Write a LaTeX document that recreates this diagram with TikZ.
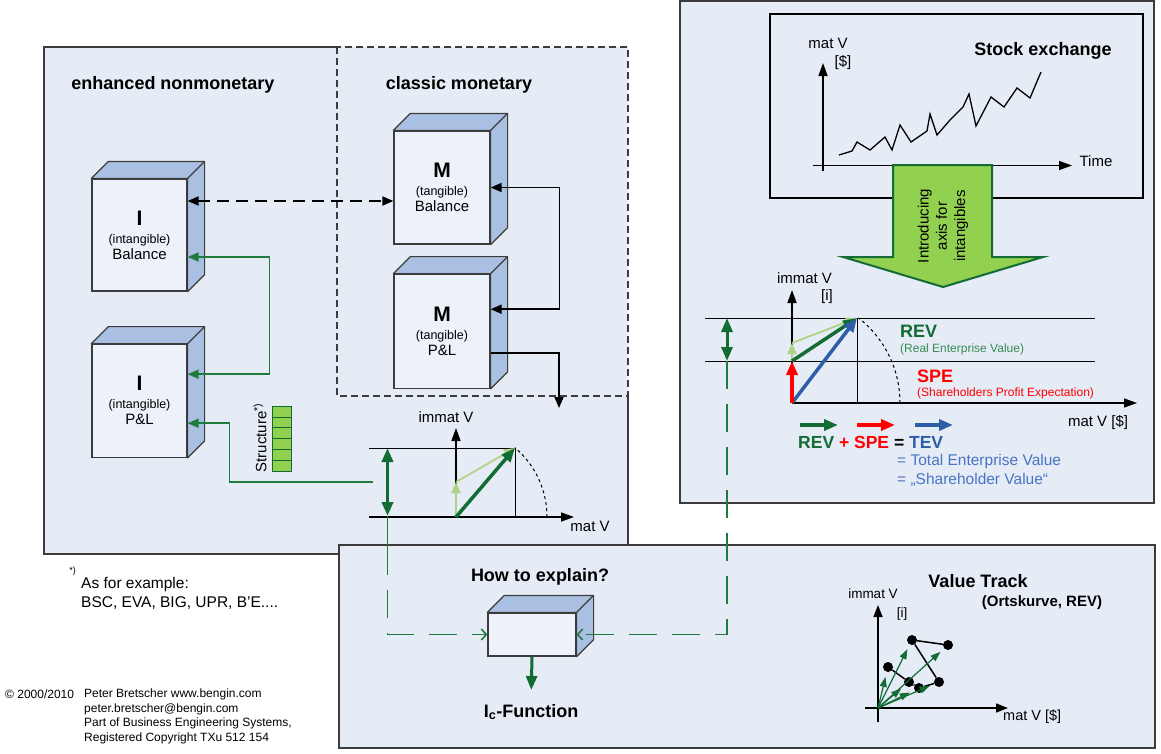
\documentclass[tikz,border=0pt]{standalone}
\usepackage{fontspec}
\setmainfont{Liberation Sans}
\usetikzlibrary{positioning, arrows.meta, calc}
\definecolor{panelfill}{RGB}{230,236,246}
\definecolor{cubefront}{RGB}{237,241,249}
\definecolor{cubeshade}{RGB}{170,192,226}
\definecolor{edgegray}{RGB}{60,60,60}
\definecolor{dkgreen}{RGB}{18,108,52}
\definecolor{linkgreen}{RGB}{32,124,62}
\definecolor{revgreen}{RGB}{52,140,82}
\definecolor{ltgreen}{RGB}{172,212,132}
\definecolor{fillgreen}{RGB}{146,208,80}
\definecolor{tevblue}{RGB}{46,94,168}
\definecolor{txtblue}{RGB}{72,116,196}
\tikzset{
	panel/.style={draw=edgegray, line width=1.8pt, fill=panelfill},
	cube/.style={draw=edgegray, line width=1.2pt, fill=cubefront, inner sep=0pt, minimum width=95pt, minimum height=112pt, align=center, font=\fontsize{15}{17}\selectfont},
	cubeside/.style={draw=edgegray, line width=1.2pt, fill=cubeshade, line join=round},
	heading/.style={inner sep=0pt, font=\fontsize{18}{20}\selectfont\bfseries},
	axislabel/.style={inner sep=0pt, font=\fontsize{15}{17}\selectfont},
	note/.style={inner sep=0pt, font=\fontsize{12}{14.5}\selectfont},
	axis/.style={line width=1.4pt, -{Triangle[length=13pt, width=9pt]}},
	guide/.style={line width=1pt},
	link/.style={line width=1.7pt, -{Triangle[length=11pt, width=9pt]}},
	linkboth/.style={line width=1.7pt, {Triangle[length=11pt, width=9pt]}-{Triangle[length=11pt, width=9pt]}},
	glink/.style={draw=linkgreen, line width=1.6pt},
	gdash/.style={draw=linkgreen, line width=1.6pt, dash pattern=on 28pt off 15pt, -{Straight Barb[length=5pt, width=11pt]}},
	vec/.style={line width=3.5pt, -{Triangle[length=14pt, width=11pt]}},
	vecboth/.style={line width=3.5pt, {Triangle[length=14pt, width=11pt]}-{Triangle[length=14pt, width=11pt]}},
	thinvec/.style={line width=1.8pt, -{Triangle[length=11pt, width=9pt]}},
	structcell/.style={draw=dkgreen, fill=fillgreen, line width=0.8pt, minimum width=19pt, minimum height=10.9pt, inner sep=0pt},
	dot/.style={circle, fill=black, minimum size=10pt, inner sep=0pt},
}
% top and side face of a cube node
\newcommand{\cubedepth}[2]{%
	\draw[cubeside] (#1.north west) -- ++(#2,-#2) -- ($(#1.north east)+(#2,-#2)$) -- ($(#1.south east)+(#2,-#2)$) -- (#1.south east) -- (#1.north east) -- cycle
		(#1.north east) -- ++(#2,-#2);
}

\begin{document}
\begin{tikzpicture}[x=1pt, y=-1pt]
	\useasboundingbox (0,0) rectangle (1161,753);
	
	% panels
	\path[fill=panelfill] (44,47) rectangle (628,554);
	\draw[draw=edgegray, line width=1.8pt] (337,47) -- (44,47) -- (44,554) -- (628,554) -- (628,396);
	\draw[draw=edgegray, line width=1.2pt, dash pattern=on 7pt off 4pt] (337,47) rectangle (628,396);
	\draw[panel] (680,1) rectangle (1154,503);
	\draw[panel] (339,545) rectangle (1155,748);
	
	%%% left panel
	\node[heading] (nonmon) at (173,85) {enhanced nonmonetary};
	\node[heading] (classic) at (459,85) {classic monetary};
	
	\node[cube] (ibal) at (139.5,235) {{\fontsize{21}{21}\selectfont\bfseries I}\\[1pt]{\fontsize{12.5}{14}\selectfont (intangible)}\\[-1pt]Balance};
	\node[cube, minimum height=113pt, below=52pt of ibal] (ipl) {{\fontsize{21}{21}\selectfont\bfseries I}\\[1pt]{\fontsize{12.5}{14}\selectfont (intangible)}\\[-1pt]P\&L};
	\node[cube, minimum width=96pt, minimum height=113pt] (mbal) at (442,187.5) {{\fontsize{21}{21}\selectfont\bfseries M}\\[1pt]{\fontsize{12.5}{14}\selectfont (tangible)}\\[-1pt]Balance};
	\node[cube, minimum width=96pt, minimum height=114pt, below=29pt of mbal] (mpl) {{\fontsize{21}{21}\selectfont\bfseries M}\\[1pt]{\fontsize{12.5}{14}\selectfont (tangible)}\\[-1pt]P\&L};
	\cubedepth{ibal}{17}
	\cubedepth{ipl}{17}
	\cubedepth{mbal}{17}
	\cubedepth{mpl}{17}
	
	\foreach \i in {0,...,5}
		\node[structcell] (cell\i) at (282.2,411.5+10.9*\i) {};
	\node[axislabel, rotate=90] (structlbl) at (260,438) {Structure\textsuperscript{*)}};
	
	% small chart
	\coordinate (oL) at (456,517);
	\coordinate (tipL) at (515,448);
	\coordinate (chartin) at (559,408);
	\coordinate (linkL) at (373,482);
	\coordinate (dblTopL) at (387.5,448);
	\coordinate (dblBotL) at (387.5,516);
	\coordinate (gapL) at (387.5,547);
	\draw[guide] (369,448) -- (tipL) -- (tipL |- oL);
	\draw[axis] (369,517) -- (574,517);
	\draw[axis] (oL) -- (456,428);
	\draw[guide, dashed] (547,517) arc[start angle=0, end angle=49.6, radius=91pt];
	\node[axislabel] (immatL) at (446,417) {immat V};
	\node[axislabel] (matL) at (590,526) {mat V};
	\draw[thinvec, ltgreen] (oL) -- (456,482);
	\draw[thinvec, ltgreen] (456,482) -- (tipL);
	\draw[vec, dkgreen] (oL) -- (tipL);
	\draw[vecboth, dkgreen] (dblTopL) -- (dblBotL);
	\draw[glink] (dblBotL) -- (gapL);
	
	\begin{scope}[black]
		\draw[linkboth, dash pattern=on 12pt off 7pt] ([yshift=34pt]ibal.east) -- ([yshift=34pt]ibal.east -| mbal.west);
		\draw[linkboth] (mbal.east) -- ++(69,0) |- ([yshift=22pt]mpl.east);
		\draw[link] ([yshift=-22pt]mpl.east) -| (chartin);
	\end{scope}
	\draw[glink, linkboth] ([yshift=-22pt]ibal.east) -- ++(82,0) |- ([yshift=26.5pt]ipl.east);
	\draw[glink, {Triangle[length=11pt, width=9pt]}-] ([yshift=-22.5pt]ipl.east) -- ++(42,0) |- (linkL);
	
	%%% right panel
	\node[draw=black, line width=1.7pt, minimum width=373pt, minimum height=184pt, inner sep=0pt] (stockbox) at (956.5,106) {};
	\draw[axis] (823,171) -- (823,63);
	\draw[axis] (813,165.5) -- (1072,165.5);
	\node[axislabel] (matS) at (828,43) {mat V};
	\node[axislabel] (dollarS) at (843,63) {[\$]};
	\node[axislabel] (timeS) at (1096,161) {Time};
	\node[heading] (stock) at (1043,51) {Stock exchange};
	\draw[line width=1.3pt, line join=miter] plot coordinates {(839,155) (852,151) (857,142) (870,150) (885,137) (892,150) (900,125) (911,142) (927,131) (930,114) (937,135) (950,120) (963,107) (969,94) (976,126) (991,97) (1004,107) (1017,88) (1030,98) (1041,72)};
	
	\draw[draw=dkgreen, fill=fillgreen, line width=2pt] (893,165) -- (992,165) -- (992,257) -- (1043,257) -- (943,287) -- (843,257) -- (893,257) -- cycle;
	\node[rotate=90, align=center, inner sep=0pt, font=\fontsize{15}{18.3}\selectfont] (intro) at (943,226) {Introducing\\axis for\\intangibles};
	
	% value chart
	\coordinate (oR) at (792,403);
	\coordinate (tipR) at (857,318);
	\coordinate (speR) at (792,361);
	\coordinate (dblTopR) at (727,318);
	\coordinate (dblBotR) at (727,361);
	\draw[guide] (705,318) -- (1095,318);
	\draw[guide] (705,361) -- (1095,361);
	\draw[guide] (tipR) -- (tipR |- oR);
	\draw[axis] (oR) -- (792,290);
	\draw[axis] (oR) -- (1137,403);
	\draw[guide, dashed] (900,403) arc[start angle=0, end angle=52, radius=108pt];
	\node[axislabel] (immatR) at (804.5,278) {immat V};
	\node[axislabel] (iR) at (827,297) {[i]};
	\node[axislabel] (matR) at (1098,422) {mat V [\$]};
	\draw[thinvec, ltgreen] (speR) -- (792,343);
	\draw[thinvec, ltgreen] (792,343) -- (tipR);
	\draw[vec, dkgreen] (speR) -- (tipR);
	\draw[vec, tevblue] (oR) -- (tipR);
	\draw[vec, red] (oR) -- (speR);
	\draw[vecboth, dkgreen, line width=3pt] (dblTopR) -- (dblBotR);
	
	\node[anchor=west, inner sep=0pt, font=\fontsize{18}{20}\selectfont\bfseries, text=dkgreen] (rev) at (900,331) {REV};
	\node[anchor=west, note, text=revgreen] (revlong) at (900,349) {(Real Enterprise Value)};
	\node[anchor=west, inner sep=0pt, font=\fontsize{18}{20}\selectfont\bfseries, text=red] (spe) at (917,376) {SPE};
	\node[anchor=west, note, text=red] (spelong) at (917,393) {(Shareholders Profit Expectation)};
	
	\draw[vec, dkgreen] (800,425) -- (838,425);
	\draw[vec, red] (857,425) -- (895,425);
	\draw[vec, tevblue] (915,425) -- (953,425);
	\node[anchor=west, inner sep=0pt, font=\fontsize{17.5}{20}\selectfont\bfseries] (sum) at (798,442) {\textcolor{dkgreen}{REV} \textcolor{red}{+ SPE} = \textcolor{tevblue}{TEV}};
	\node[anchor=west, inner sep=0pt, font=\fontsize{15.5}{19}\selectfont, text=txtblue] (tevlong) at (897,461) {= Total Enterprise Value};
	\node[anchor=west, inner sep=0pt, font=\fontsize{15.5}{19}\selectfont, text=txtblue] (shvalue) at (897,480) {= „Shareholder Value“};
	
	%%% bottom panel
	\node[heading] (howto) at (540,577) {How to explain?};
	\node[cube, minimum width=88pt, minimum height=43pt] (icube) at (532,634.5) {};
	\cubedepth{icube}{17}
	\node[heading] (icfun) at (531,712) {I\textsubscript{c}-Function};
	\draw[vec, dkgreen, line width=3pt, shorten >=14pt] (icube.south) -- (icfun.north);
	\draw[gdash] (gapL) |- (icube.west);
	\draw[gdash] (dblBotR) |- (icube.east);
	
	% value track
	\node[heading] (track) at (978,581) {Value Track};
	\node[inner sep=0pt, font=\fontsize{15}{17}\selectfont\bfseries] (ortskurve) at (1042,603) {(Ortskurve, REV)};
	\coordinate (oV) at (878,708);
	\draw[axis, -{Triangle[length=12pt, width=9pt]}] (878,722) -- (878,605);
	\draw[axis, -{Triangle[length=12pt, width=9pt]}] (865,708) -- (1008,708);
	\node[inner sep=0pt, font=\fontsize{13.5}{16}\selectfont] (immatV) at (873,594) {immat V};
	\node[inner sep=0pt, font=\fontsize{13.5}{16}\selectfont] (iV) at (902,614) {[i]};
	\node[anchor=west, inner sep=0pt, font=\fontsize{14.5}{16}\selectfont] (matV) at (1003,717) {mat V [\$]};
	\node[dot] (v1) at (888,667) {};
	\node[dot] (v2) at (909,682) {};
	\node[dot] (v3) at (919,688) {};
	\node[dot] (v4) at (939,682) {};
	\node[dot] (v5) at (912,640) {};
	\node[dot] (v6) at (948,645) {};
	\draw[line width=1.5pt] (v1) -- (v2) -- (v3) -- (v4) -- (v5) -- (v6);
	\foreach \i in {1,...,6}
		\draw[dkgreen, line width=1.2pt, -{Triangle[length=10pt, width=7pt]}, shorten >=5pt] (oV) -- (v\i);
	
	%%% notes
	\node[inner sep=0pt, font=\fontsize{9}{9}\selectfont, anchor=north east] (fnmark) at (76,567) {*)};
	\node[anchor=north west, align=left, inner sep=0pt, font=\fontsize{15.5}{19}\selectfont] (fnote) at (81,577) {As for example:\\BSC, EVA, BIG, UPR, B’E....};
	\node[anchor=base west, note] (copyyear) at (5,698.5) {© 2000/2010};
	\node[anchor=north west, align=left, note] (copytext) at (84,689) {Peter Bretscher www.bengin.com\\peter.bretscher@bengin.com\\Part of Business Engineering Systems,\\Registered Copyright TXu 512 154};
\end{tikzpicture}
\end{document}
